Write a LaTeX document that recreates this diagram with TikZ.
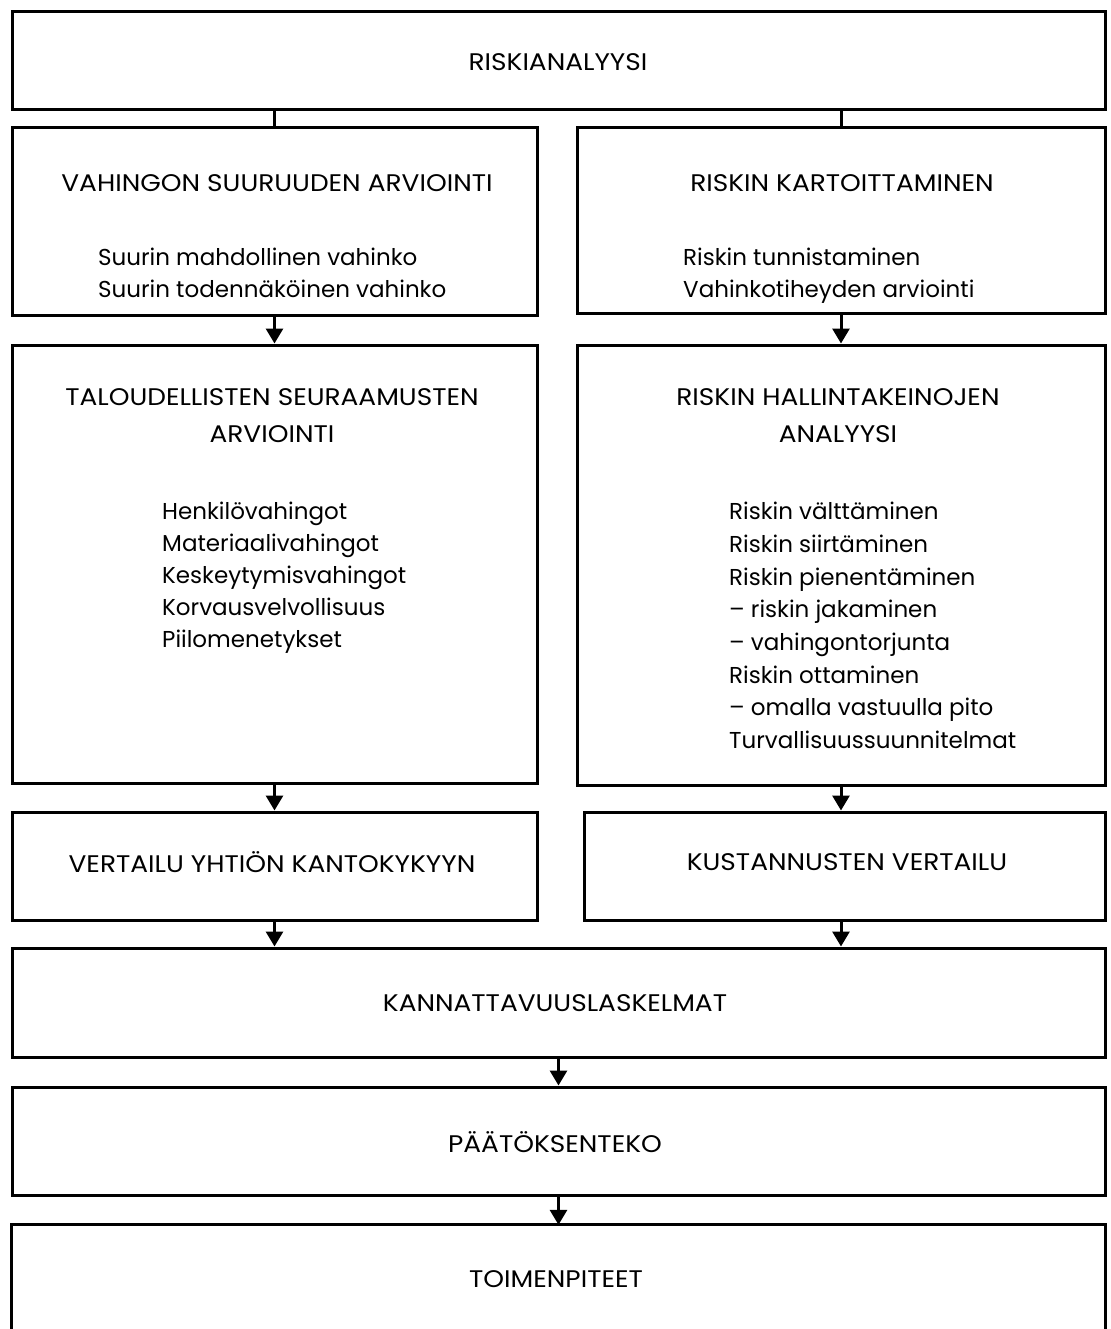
\documentclass[tikz,border=0pt]{standalone}
\usepackage{fontspec}
\setmainfont{Poppins}
\newfontfamily\capfont[FakeStretch=1.1]{Poppins}
\usetikzlibrary{arrows.meta}
\begin{document}
\begin{tikzpicture}[x=1pt,y=-1pt,
  boxstyle/.style={draw, line width=3pt, inner sep=0pt},
  openbox/.style={draw=none, inner sep=0pt},
  tt/.style={font=\capfont\fontsize{24}{37}\selectfont, inner sep=0pt, align=center},
  lst/.style={font=\fontsize{23}{32}\selectfont, align=left, anchor=north west, inner sep=0pt},
  link/.style={line width=3pt},
  arr/.style={line width=3pt, -{Triangle[width=17pt,length=15pt]}}]
\useasboundingbox (0,0) rectangle (1110,1329);

% boxes
\node[boxstyle, minimum width=1093pt, minimum height=98pt] (top) at (558.5,61) {};
\node[boxstyle, minimum width=525pt, minimum height=187pt] (L1) at (274.5,221.5) {};
\node[boxstyle, minimum width=528pt, minimum height=185pt] (R1) at (841,220.5) {};
\node[boxstyle, minimum width=525pt, minimum height=438pt] (L2) at (274.5,564) {};
\node[boxstyle, minimum width=528pt, minimum height=440pt] (R2) at (841,565) {};
\node[boxstyle, minimum width=525pt, minimum height=108pt] (L3) at (274.5,866) {};
\node[boxstyle, minimum width=521pt, minimum height=108pt] (R3) at (844.5,866) {};
\node[boxstyle, minimum width=1093pt, minimum height=109pt] (K) at (558.5,1002.5) {};
\node[boxstyle, minimum width=1093pt, minimum height=108pt] (P) at (558.5,1141) {};
\node[openbox, minimum width=1093pt, minimum height=104pt] (T) at (558.5,1277) {};
\draw[link] (T.south west) -- (T.north west) -- (T.north east) -- (T.south east);

% texts
\node[tt] (topT) at (558,62) {RISKIANALYYSI};
\node[tt] (L1T) at (277,183) {VAHINGON SUURUUDEN ARVIOINTI};
\node[lst] (L1L) at (98,248) {Suurin mahdollinen vahinko\\Suurin todennäköinen vahinko};
\node[tt] (R1T) at (842,183) {RISKIN KARTOITTAMINEN};
\node[lst] (R1L) at (683,248) {Riskin tunnistaminen\\Vahinkotiheyden arviointi};
\node[tt] (L2T) at (272,416) {TALOUDELLISTEN SEURAAMUSTEN\\ARVIOINTI};
\node[lst] (L2L) at (162,502) {Henkilövahingot\\Materiaalivahingot\\Keskeytymisvahingot\\Korvausvelvollisuus\\Piilomenetykset};
\node[tt] (R2T) at (838,416) {RISKIN HALLINTAKEINOJEN\\ANALYYSI};
\node[lst, font=\fontsize{23}{32.7}\selectfont] (R2L) at (729,502) {Riskin välttäminen\\Riskin siirtäminen\\Riskin pienentäminen\\– riskin jakaminen\\– vahingontorjunta\\Riskin ottaminen\\– omalla vastuulla pito\\Turvallisuussuunnitelmat};
\node[tt] (L3T) at (272,862) {VERTAILU YHTIÖN KANTOKYKYYN};
\node[tt] (R3T) at (847,862) {KUSTANNUSTEN VERTAILU};
\node[tt] (KT) at (555,1003) {KANNATTAVUUSLASKELMAT};
\node[tt] (PT) at (555,1142) {PÄÄTÖKSENTEKO};
\node[tt] (TT) at (556,1279) {TOIMENPITEET};

% connectors
\draw[link] (top.south -| L1.north) -- (L1.north);
\draw[link] (top.south -| R1.north) -- (R1.north);
\draw[arr] (L1.south) -- (L2.north);
\draw[arr] (R1.south) -- (R2.north);
\draw[arr] (L2.south) -- (L3.north);
\draw[arr] (R2.south) -- (R2.south |- R3.north);
\draw[arr] (L3.south) -- (L3.south |- K.north);
\draw[arr] (R3.south -| R2.south) -- (R2.south |- K.north);
\draw[arr] (K.south) -- (P.north);
\draw[arr] (P.south) -- (T.north);
\end{tikzpicture}
\end{document}
